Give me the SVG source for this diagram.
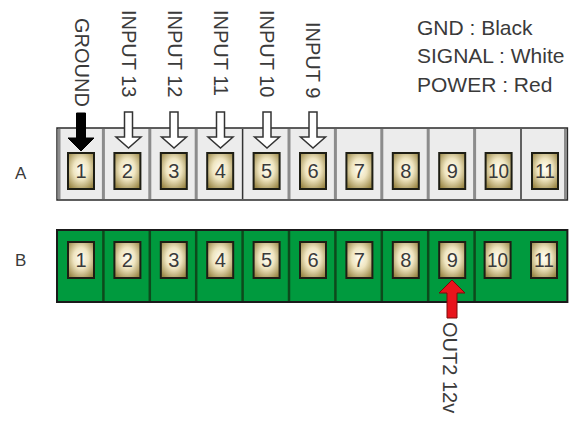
<svg xmlns="http://www.w3.org/2000/svg" width="578" height="421" viewBox="0 0 578 421">
<defs>
<radialGradient id="pg" cx="50%" cy="45%" r="65%">
<stop offset="0" stop-color="#fffef6"/>
<stop offset="0.45" stop-color="#efe5c0"/>
<stop offset="1" stop-color="#9a8746"/>
</radialGradient>
<style>
.lbl{font-family:"Liberation Sans",Arial,sans-serif;font-size:20px;fill:#3a3a3a}
.leg{font-family:"Liberation Sans",Arial,sans-serif;font-size:21px;fill:#3a3a3a}
.row{font-family:"Liberation Sans",Arial,sans-serif;font-size:17px;fill:#3a3a3a}
.num{font-family:"Liberation Sans",Arial,sans-serif;font-size:20px;fill:#3a3a3a;text-anchor:middle}
.pin{fill:url(#pg);stroke:#1e1e14;stroke-width:2}
.divA{stroke:#8c8c8c;stroke-width:3}
.divAd{stroke:#333;stroke-width:1.5}
.divB{stroke:#0d4a1c;stroke-width:2.5}
.wa{fill:#fff;stroke:#333;stroke-width:1.5;stroke-linejoin:miter}
</style>
</defs>
<rect width="578" height="421" fill="#fff"/>

<g id="legend">
<text class="leg" x="417" y="35">GND : Black</text>
<text class="leg" x="417" y="63">SIGNAL : White</text>
<text class="leg" x="417" y="92">POWER : Red</text>
</g>

<g id="rowA">
<text class="row" x="15" y="179">A</text>
<rect x="57" y="128" width="510.4" height="72" fill="#ececec" stroke="#2a2a2a" stroke-width="1.5"/>
<line class="divA" x1="59" y1="129" x2="59" y2="199"/>
<line class="divA" x1="103.4" y1="129" x2="103.4" y2="199"/>
<line class="divA" x1="149.8" y1="129" x2="149.8" y2="199"/>
<line class="divA" x1="196.2" y1="129" x2="196.2" y2="199"/>
<line class="divAd" x1="242.6" y1="129" x2="242.6" y2="199"/>
<line class="divA" x1="289" y1="129" x2="289" y2="199"/>
<line class="divA" x1="335.4" y1="129" x2="335.4" y2="199"/>
<line class="divA" x1="381.8" y1="129" x2="381.8" y2="199"/>
<line class="divA" x1="428.2" y1="129" x2="428.2" y2="199"/>
<line class="divA" x1="474.6" y1="129" x2="474.6" y2="199"/>
<line class="divAd" x1="521" y1="129" x2="521" y2="199"/>
<line class="divA" x1="565.5" y1="129" x2="565.5" y2="199"/>
</g>

<g id="pinsA">
<rect class="pin" x="68" y="153" width="26" height="36"/><text class="num" x="81" y="178">1</text>
<rect class="pin" x="114.4" y="153" width="26" height="36"/><text class="num" x="127.4" y="178">2</text>
<rect class="pin" x="160.8" y="153" width="26" height="36"/><text class="num" x="173.8" y="178">3</text>
<rect class="pin" x="207.2" y="153" width="26" height="36"/><text class="num" x="220.2" y="178">4</text>
<rect class="pin" x="253.6" y="153" width="26" height="36"/><text class="num" x="266.6" y="178">5</text>
<rect class="pin" x="300" y="153" width="26" height="36"/><text class="num" x="313" y="178">6</text>
<rect class="pin" x="346.4" y="153" width="26" height="36"/><text class="num" x="359.4" y="178">7</text>
<rect class="pin" x="392.8" y="153" width="26" height="36"/><text class="num" x="405.8" y="178">8</text>
<rect class="pin" x="439.2" y="153" width="26" height="36"/><text class="num" x="452.2" y="178">9</text>
<rect class="pin" x="485.6" y="153" width="26" height="36"/><text class="num" x="498.6" y="178" textLength="21" lengthAdjust="spacingAndGlyphs">10</text>
<rect class="pin" x="532" y="153" width="26" height="36"/><text class="num" x="545" y="178" textLength="20" lengthAdjust="spacingAndGlyphs">11</text>
</g>

<g id="rowB">
<text class="row" x="15" y="266">B</text>
<rect x="57" y="230" width="510.4" height="72" fill="#009a3e" stroke="#1a1a1a" stroke-width="2"/>
<line class="divB" x1="103.4" y1="231" x2="103.4" y2="301"/>
<line class="divB" x1="149.8" y1="231" x2="149.8" y2="301"/>
<line class="divB" x1="196.2" y1="231" x2="196.2" y2="301"/>
<line class="divB" x1="242.6" y1="231" x2="242.6" y2="301"/>
<line class="divB" x1="289" y1="231" x2="289" y2="301"/>
<line class="divB" x1="335.4" y1="231" x2="335.4" y2="301"/>
<line class="divB" x1="381.8" y1="231" x2="381.8" y2="301"/>
<line class="divB" x1="428.2" y1="231" x2="428.2" y2="301"/>
<line class="divB" x1="474.6" y1="231" x2="474.6" y2="301"/>
</g>

<g id="pinsB">
<rect class="pin" x="68" y="242" width="26" height="36"/><text class="num" x="81" y="267">1</text>
<rect class="pin" x="114.4" y="242" width="26" height="36"/><text class="num" x="127.4" y="267">2</text>
<rect class="pin" x="160.8" y="242" width="26" height="36"/><text class="num" x="173.8" y="267">3</text>
<rect class="pin" x="207.2" y="242" width="26" height="36"/><text class="num" x="220.2" y="267">4</text>
<rect class="pin" x="253.6" y="242" width="26" height="36"/><text class="num" x="266.6" y="267">5</text>
<rect class="pin" x="300" y="242" width="26" height="36"/><text class="num" x="313" y="267">6</text>
<rect class="pin" x="346.4" y="242" width="26" height="36"/><text class="num" x="359.4" y="267">7</text>
<rect class="pin" x="392.8" y="242" width="26" height="36"/><text class="num" x="405.8" y="267">8</text>
<rect class="pin" x="439.2" y="242" width="26" height="36"/><text class="num" x="452.2" y="267">9</text>
<rect class="pin" x="484.6" y="242" width="26" height="36"/><text class="num" x="497.6" y="267" textLength="21" lengthAdjust="spacingAndGlyphs">10</text>
<rect class="pin" x="531" y="242" width="26" height="36"/><text class="num" x="544" y="267" textLength="20" lengthAdjust="spacingAndGlyphs">11</text>
</g>

<g id="labels">
<text class="lbl" transform="translate(74.5,18) rotate(90)">GROUND</text>
<text class="lbl" transform="translate(122,10) rotate(90)">INPUT 13</text>
<text class="lbl" transform="translate(167.5,10) rotate(90)">INPUT 12</text>
<text class="lbl" transform="translate(214,10) rotate(90)">INPUT 11</text>
<text class="lbl" transform="translate(260,10) rotate(90)">INPUT 10</text>
<text class="lbl" transform="translate(306,22) rotate(90)">INPUT 9</text>
<text class="lbl" transform="translate(443,322) rotate(90)">OUT2 12v</text>
</g>

<g id="connectors">
<polygon points="76.5,113 85.5,113 85.5,138 94,138 81,151 68,138 76.5,138" fill="#000" stroke="#000" stroke-width="1"/>
<polygon class="wa" points="124.5,112 132.5,112 132.5,137 141,137 128.5,148 116,137 124.5,137"/>
<polygon class="wa" points="170,112 178,112 178,137 186.5,137 174,148 161.5,137 170,137"/>
<polygon class="wa" points="216.5,112 224.5,112 224.5,137 233,137 220.5,148 208,137 216.5,137"/>
<polygon class="wa" points="263,112 271,112 271,137 279.5,137 267,148 254.5,137 263,137"/>
<polygon class="wa" points="309,112 317,112 317,137 325.5,137 313,148 300.5,137 309,137"/>
<polygon points="452,280 465,293 457,293 457,318 447,318 447,293 439,293" fill="#e8141c" stroke="#7a0a0a" stroke-width="1"/>
</g>
</svg>
